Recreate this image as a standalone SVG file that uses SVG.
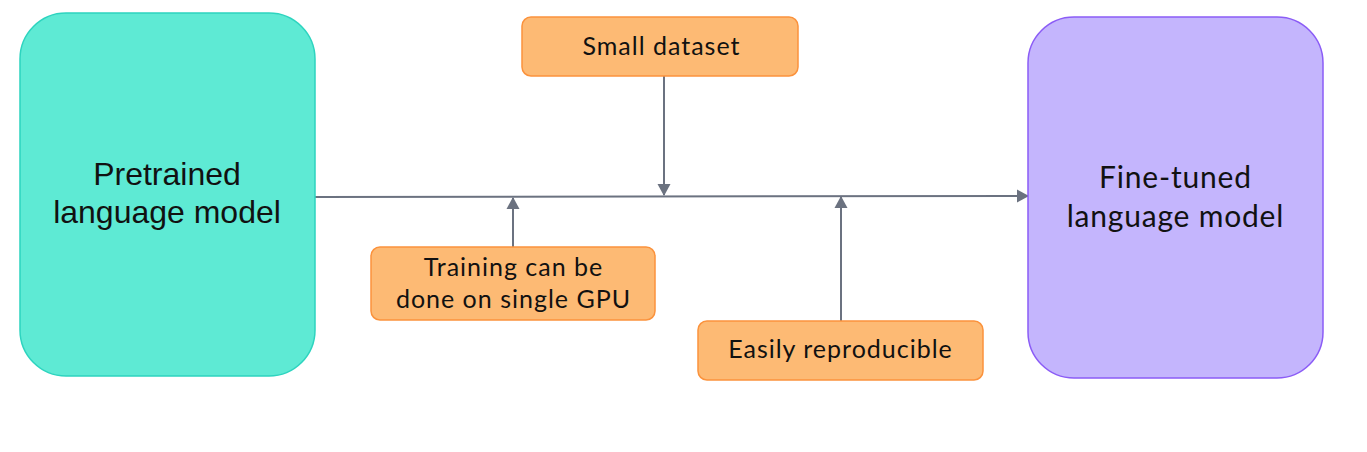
<svg xmlns="http://www.w3.org/2000/svg" width="1367" height="452" viewBox="0 0 1367 452">
<style>
.lbl{font-family:Lato,"Open Sans","Noto Sans",sans-serif;fill:#111;text-anchor:middle}
.big{font-size:30px;letter-spacing:0.8px}
.small{font-size:25px;letter-spacing:1px}
.orange{fill:#fdba74;stroke:#fb923c;stroke-width:1.5}
.conn{stroke:#6b7280;stroke-width:2;fill:none}
</style>
<defs>
<marker id="arr" viewBox="0 0 12 14" refX="11" refY="7" markerWidth="12" markerHeight="14" markerUnits="userSpaceOnUse" orient="auto">
<path d="M0,0.5 L12,7 L0,13.5 Z" fill="#6b7280"/>
</marker>
</defs>
<rect width="1367" height="452" fill="#fff"/>
<g id="connectors">
<path class="conn" d="M315,197 L1028,196" marker-end="url(#arr)"/>
<path class="conn" d="M664,76 L664,195" marker-end="url(#arr)"/>
<path class="conn" d="M513,247 L513,198" marker-end="url(#arr)"/>
<path class="conn" d="M841,321 L841,197" marker-end="url(#arr)"/>
</g>
<g id="pretrained">
<rect x="20" y="13" width="295" height="363" rx="46" ry="46" fill="#5eead4" stroke="#2dd4bf" stroke-width="1.5"/>
<text x="167" y="185" font-family="Liberation Sans, Arial, sans-serif" font-size="32" fill="#111" text-anchor="middle">Pretrained</text>
<text x="167" y="223" font-family="Liberation Sans, Arial, sans-serif" font-size="32" fill="#111" text-anchor="middle">language model</text>
</g>
<g id="finetuned">
<rect x="1028" y="17" width="295" height="361" rx="46" ry="46" fill="#c4b5fd" stroke="#8b5cf6" stroke-width="1.5"/>
<text class="lbl big" x="1175.4" y="188">Fine-tuned</text>
<text class="lbl big" x="1175.4" y="227">language model</text>
</g>
<g id="small-dataset">
<rect class="orange" x="522" y="17" width="276" height="59" rx="9"/>
<text class="lbl small" x="661.5" y="55">Small dataset</text>
</g>
<g id="single-gpu">
<rect class="orange" x="371" y="247" width="284" height="73" rx="9"/>
<text class="lbl small" x="513.5" y="276">Training can be</text>
<text class="lbl small" x="513.5" y="308">done on single GPU</text>
</g>
<g id="reproducible">
<rect class="orange" x="698" y="321" width="285" height="59" rx="9"/>
<text class="lbl small" x="840.5" y="358">Easily reproducible</text>
</g>
</svg>
